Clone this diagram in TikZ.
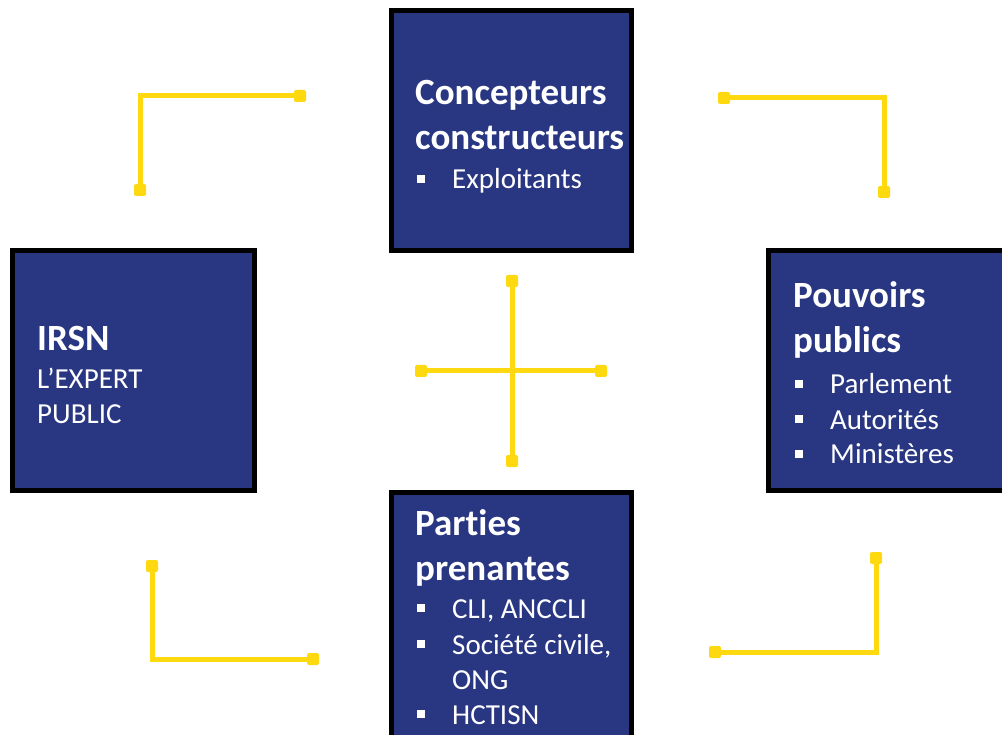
\documentclass[tikz,border=0pt]{standalone}
\usepackage{fontspec}
\setmainfont{Carlito}[Ligatures=NoCommon]
\definecolor{boxblue}{RGB}{41,54,130}
\definecolor{linkyellow}{RGB}{255,217,15}
\newcommand\bulletsq{\rule[6pt]{8pt}{8pt}\hspace{27pt}}
\begin{document}
\begin{tikzpicture}[x=1pt,y=-1pt,
  panel/.style={draw=black, line width=5pt, fill=boxblue, rectangle, inner sep=0},
  ttl/.style={anchor=base west, inner sep=0, text=white, font=\fontsize{37}{44}\selectfont\bfseries},
  itm/.style={anchor=base west, inner sep=0, text=white, font=\fontsize{29}{34}\selectfont},
  link/.style={draw=linkyellow, line width=5pt},
  tip/.style={rectangle, fill=linkyellow, minimum size=12pt, inner sep=0, rounded corners=2pt}]
\useasboundingbox (0,0) rectangle (1002,735);
\clip (0,0) rectangle (1002,735);
\fill[white] (0,0) rectangle (1002,735);

% boxes
\node[panel, minimum width=240pt, minimum height=240pt] (top) at (511.5,130.5) {};
\node[panel, minimum width=242pt, minimum height=240pt] (left) at (133.5,370.5) {};
\node[panel, minimum width=242pt, minimum height=240pt] (right) at (889.5,370.5) {};
\node[panel, minimum width=240pt, minimum height=248pt] (bottom) at (511.5,616) {};

% top texts
\node[ttl] (t1) at (415,105) {Concepteurs};
\node[ttl] (t2) at (415,150) {constructeurs};
\node[itm] (t3) at (417,189) {\bulletsq Exploitants};

% left texts
\node[ttl] (l1) at (37,351) {IRSN};
\node[itm] (l2) at (37,389) {L’EXPERT};
\node[itm] (l3) at (37,424) {PUBLIC};

% right texts
\node[ttl] (r1) at (793,308) {Pouvoirs};
\node[ttl] (r2) at (793,353) {publics};
\node[itm] (r3) at (795,394) {\bulletsq Parlement};
\node[itm] (r4) at (795,429) {\bulletsq Autorités};
\node[itm] (r5) at (795,464) {\bulletsq Ministères};

% bottom texts
\node[ttl] (b1) at (415,535) {Parties};
\node[ttl] (b2) at (415,580) {prenantes};
\node[itm] (b3) at (417,618) {\bulletsq CLI, ANCCLI};
\node[itm] (b4) at (417,654) {\bulletsq Société civile,};
\node[itm] (b5) at (452,689) {ONG};
\node[itm] (b6) at (417,724) {\bulletsq HCTISN};

% connector end points
\coordinate (tla) at (140,190); \coordinate (tlc) at (140,96);  \coordinate (tlb) at (300,96);
\coordinate (tra) at (724,98);  \coordinate (trc) at (884,98);  \coordinate (trb) at (884,192);
\coordinate (bla) at (152,566); \coordinate (blc) at (152,659); \coordinate (blb) at (313,659);
\coordinate (bra) at (715,652); \coordinate (brc) at (876,652); \coordinate (brb) at (876,558);
\coordinate (cn) at (512,281); \coordinate (cs) at (512,461);
\coordinate (cw) at (421,371); \coordinate (ce) at (601,371);

\draw[link] (tla) -- (tlc) -- (tlb);
\draw[link] (tra) -- (trc) -- (trb);
\draw[link] (bla) -- (blc) -- (blb);
\draw[link] (bra) -- (brc) -- (brb);
\draw[link] (cn) -- (cs);
\draw[link] (cw) -- (ce);

\foreach \p in {tla,tlb,tra,trb,bla,blb,bra,brb,cn,cs,cw,ce}
  \node[tip] (tip-\p) at (\p) {};
\end{tikzpicture}
\end{document}
